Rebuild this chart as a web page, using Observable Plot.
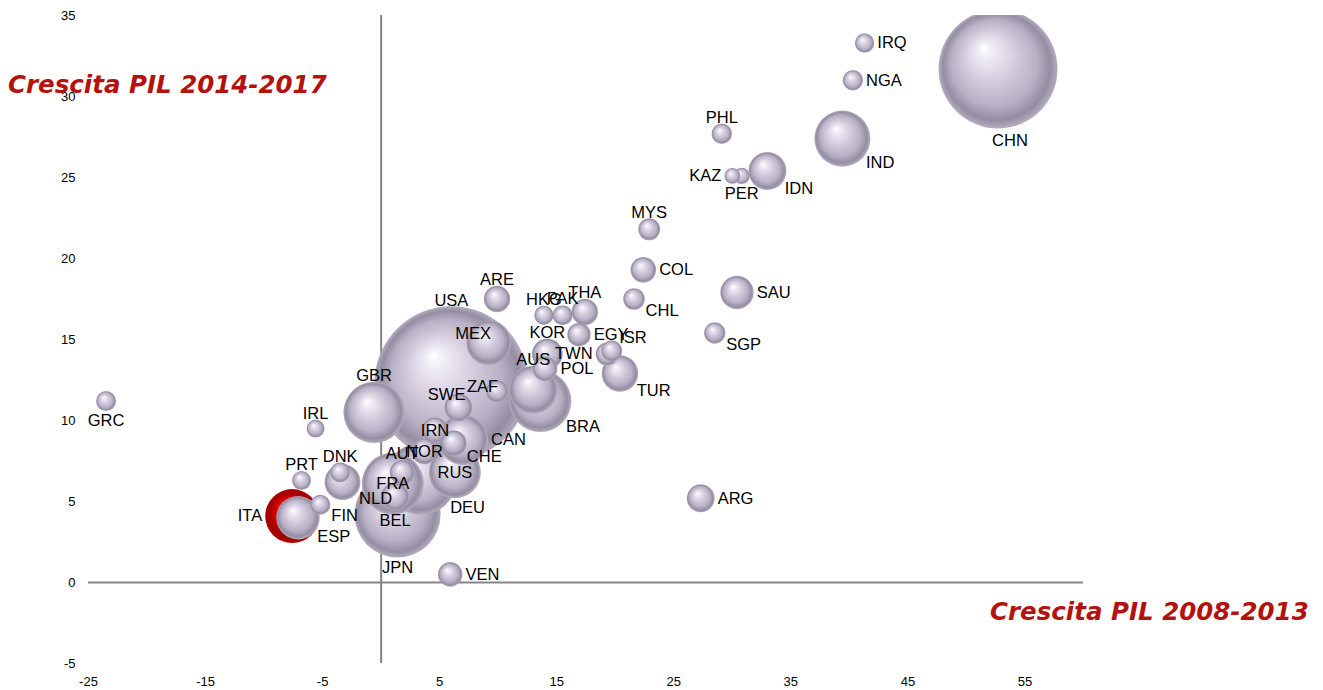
<!DOCTYPE html>
<html>
<head>
<meta charset="utf-8">
<script src="https://cdn.jsdelivr.net/npm/d3@7"></script>
<script src="https://cdn.jsdelivr.net/npm/@observablehq/plot@0.6"></script>
<style>
  body { margin: 0; background: #fff; }
  #wrap { position: relative; width: 1323px; height: 690px; }
  .ttl { position: absolute; font-family: "DejaVu Sans", Verdana, sans-serif; font-weight: bold; font-style: italic; font-size: 24.5px; color: #b3120e; white-space: nowrap; }
</style>
</head>
<body>
<div id="wrap">
  <div id="chart"></div>
  <div class="ttl" style="left:8px; top:70px;">Crescita PIL 2014-2017</div>
  <div class="ttl" style="left:990px; top:597px;">Crescita PIL 2008-2013</div>
</div>
<script>
// ---- Data ----
const codes = ["CHN","IRQ","NGA","PHL","IND","IDN","KAZ","PER","MYS","COL","CHL","SAU","SGP","ARE","HKG","PAK","THA","EGY","KOR","ISR","TWN","TUR","POL","AUS","BRA","MEX","USA","GBR","IRL","GRC","PRT","ITA","ESP","FIN","NLD","DNK","JPN","FRA","DEU","BEL","AUT","RUS","CAN","IRN","NOR","CHE","SWE","ZAF","VEN","ARG"];
// GDP growth 2008-2013 (%)
const growth0813 = [52.7,41.3,40.3,29.1,39.4,33.0,30.0,30.8,22.9,22.4,21.6,30.4,28.5,9.9,13.9,15.5,17.4,16.9,14.2,19.7,19.3,20.4,14.0,13.0,13.6,9.2,6.0,-0.6,-5.6,-23.5,-6.8,-7.6,-7.1,-5.2,-3.3,-3.5,1.4,1.0,3.4,1.2,1.8,6.3,7.0,4.6,3.7,6.2,6.6,9.9,5.9,27.3];
// GDP growth 2014-2017 (%)
const growth1417 = [31.7,33.3,31.0,27.7,27.4,25.4,25.1,25.1,21.8,19.3,17.5,17.9,15.4,17.5,16.5,16.5,16.7,15.3,14.1,14.3,14.1,12.9,13.2,11.9,11.2,14.8,12.3,10.5,9.5,11.2,6.3,4.1,4.0,4.8,6.2,6.8,4.2,6.1,6.4,5.3,6.8,6.8,8.8,9.4,8.1,8.6,10.8,11.8,0.5,5.2];
// GDP size (bubble size, USD trillions, estimated)
const gdp = [10.5,0.28,0.31,0.31,2.33,1.07,0.19,0.20,0.36,0.49,0.35,0.83,0.34,0.52,0.28,0.30,0.52,0.41,0.71,0.33,0.39,0.99,0.46,1.71,2.85,1.50,17.6,2.80,0.24,0.30,0.27,2.16,1.40,0.30,0.96,0.30,5.50,2.85,3.85,0.58,0.46,2.00,1.85,0.50,0.50,0.50,0.58,0.36,0.45,0.58];
// label placement relative to bubble
const labelSide = ["bb","r","r","t","br","br","l","b","t","r","br","r","br","t","t","t","t","r","t","tr","l","br","r","t","br","tl","t","t","t","b","t","l","br","br","br","t","b","c","br","b","t","c","r","c","c","br","tL","tl","r","r"];
const highlight = "ITA";
const xTicks = [-25,-15,-5,5,15,25,35,45,55];
const yTicks = [-5,0,5,10,15,20,25,30,35];

// ---- Layout ----
const W = 1323, H = 690, ML = 88, MR = 240, MT = 15, MB = 27;
const xDom = [-25, 60], yDom = [-5, 35];
const kx = (W - ML - MR) / (xDom[1] - xDom[0]);
const ky = (H - MT - MB) / (yDom[1] - yDom[0]);
const rDom = [0, 17.6], rRange = [0, 77];
const rScale = d3.scaleSqrt().domain(rDom).range(rRange);

const rows = codes.map((c, i) => ({code: c, x: growth0813[i], y: growth1417[i], s: gdp[i], side: labelSide[i]}));

function offset(d) {
  const r = rScale(d.s);
  switch (d.side) {
    case "t": return [0, -(r + 6), "middle"];
    case "b": return [0, r + 10, "middle"];
    case "bb": return [r * 0.2, r + 12, "middle"];
    case "r": return [r + 3, 0, "start"];
    case "l": return [-(r + 3), 0, "end"];
    case "br": return [r * 0.7 + 4, r * 0.7 + 4, "start"];
    case "tr": return [r * 0.7, -(r * 0.7 + 6), "start"];
    case "tl": return [r * 0.1, -r * 0.4, "end"];
    case "tL": return [r * 0.5, -r * 0.9, "end"];
    default: return [0, 0, "middle"];
  }
}

const labelMarks = ["start", "middle", "end"].map(a =>
  Plot.text(rows.filter(d => offset(d)[2] === a), {
    x: d => d.x + offset(d)[0] / kx,
    y: d => d.y - offset(d)[1] / ky,
    text: "code",
    textAnchor: a,
    fontSize: 16.5,
    fill: "black"
  })
);

const chart = Plot.plot({
  width: W, height: H,
  marginLeft: ML, marginRight: MR, marginTop: MT, marginBottom: MB,
  x: {domain: xDom},
  y: {domain: yDom},
  r: {domain: rDom, range: rRange},
  color: {type: "identity"},
  style: {fontFamily: "'Liberation Sans', Arial, sans-serif", background: "white", color: "black"},
  marks: [
    Plot.axisX({ticks: xTicks, tickSize: 0, tickPadding: 13, fontSize: 13, label: null, tickFormat: d => String(d)}),
    Plot.axisY({ticks: yTicks, tickSize: 0, tickPadding: 13, fontSize: 13, label: null, tickFormat: d => String(d)}),
    Plot.ruleY([0], {x1: xDom[0], x2: xDom[1], stroke: "#858585", strokeWidth: 2}),
    Plot.ruleX([0], {y1: yDom[0], y2: yDom[1], stroke: "#858585", strokeWidth: 2}),
    Plot.dot(rows, {x: "x", y: "y", r: "s", fill: d => d.code === highlight ? "url(#sphRed)" : "url(#sph)", stroke: "none", clip: true}),
    ...labelMarks
  ]
});

// sphere gradients
const defs = d3.select(chart).insert("defs", ":first-child");
function grad(id, stops) {
  const g = defs.append("radialGradient").attr("id", id)
    .attr("cx", 0.5).attr("cy", 0.5).attr("r", 0.5).attr("fx", 0.38).attr("fy", 0.32);
  stops.forEach(([o, c]) => g.append("stop").attr("offset", o).attr("stop-color", c));
}
grad("sph", [[0, "#ffffff"], [0.1, "#f3f0f7"], [0.4, "#d6cfe0"], [0.72, "#b8b0c4"], [0.9, "#958ea2"], [1, "#b4adbf"]]);
grad("sphRed", [[0, "#ff7070"], [0.15, "#f52525"], [0.5, "#d40000"], [0.85, "#9c0000"], [1, "#b80000"]]);

document.getElementById("chart").appendChild(chart);
</script>
</body>
</html>
